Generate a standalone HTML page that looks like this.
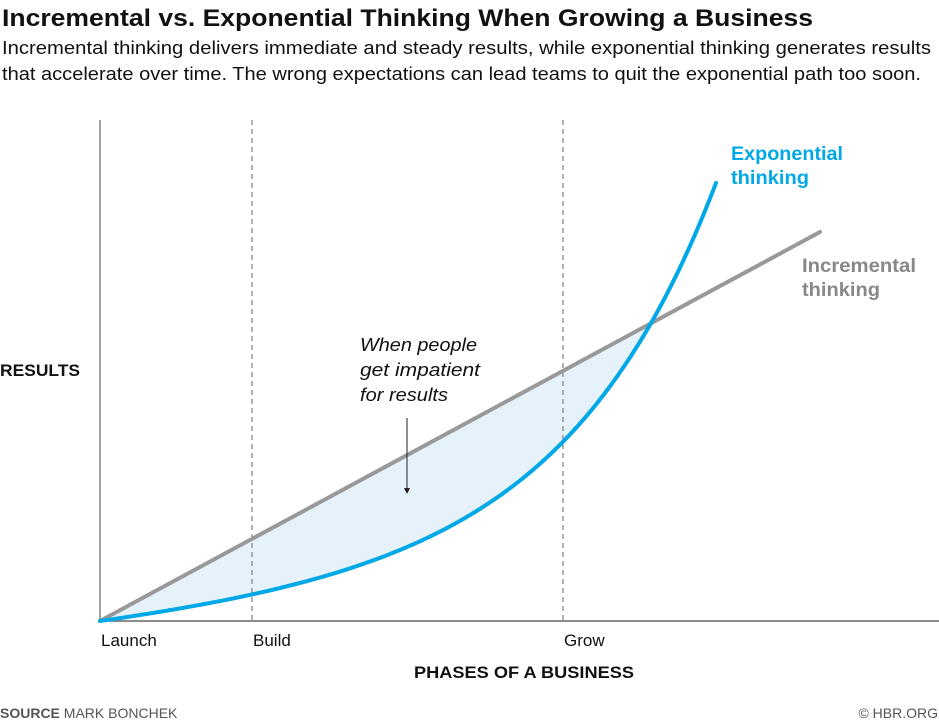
<!DOCTYPE html>
<html><head><meta charset="utf-8"><style>
body{margin:0;background:#fff;width:939px;height:722px;overflow:hidden;font-family:"Liberation Sans",sans-serif}
</style></head><body>
<svg width="939" height="722" xmlns="http://www.w3.org/2000/svg" font-family="Liberation Sans, sans-serif">
<text x="2" y="26" font-size="24" font-weight="bold" fill="#111" textLength="811" lengthAdjust="spacingAndGlyphs">Incremental vs. Exponential Thinking When Growing a Business</text>
<text x="2" y="54" font-size="18" fill="#111" textLength="929" lengthAdjust="spacingAndGlyphs">Incremental thinking delivers immediate and steady results, while exponential thinking generates results</text>
<text x="2" y="80" font-size="18" fill="#111" textLength="919" lengthAdjust="spacingAndGlyphs">that accelerate over time. The wrong expectations can lead teams to quit the exponential path too soon.</text>
<path id="fill" fill="#e6f2f9"/>
<line x1="100" y1="120" x2="100" y2="621" stroke="#444" stroke-width="1"/>
<line x1="100" y1="621" x2="939" y2="621" stroke="#666" stroke-width="1.5"/>
<line x1="252" y1="120" x2="252" y2="621" stroke="#666" stroke-dasharray="5,4"/>
<line x1="563" y1="120" x2="563" y2="621" stroke="#666" stroke-dasharray="5,4"/>
<line x1="100" y1="621" x2="820" y2="232" stroke="#999" stroke-width="4" stroke-linecap="round"/>
<path id="curve" fill="none" stroke="#00a8e8" stroke-width="4" stroke-linecap="round"/>
<line x1="407" y1="418" x2="407" y2="490" stroke="#222" stroke-width="1"/>
<path d="M404,488 L410,488 L407,494 Z" fill="#222"/>
<g font-size="18" font-style="italic" fill="#111"><text x="360" y="351" textLength="117" lengthAdjust="spacingAndGlyphs">When people</text><text x="360" y="376" textLength="120" lengthAdjust="spacingAndGlyphs">get impatient</text><text x="360" y="401" textLength="88" lengthAdjust="spacingAndGlyphs">for results</text></g>
<g font-size="19" font-weight="bold" fill="#00a8e8"><text x="731" y="160" textLength="112" lengthAdjust="spacingAndGlyphs">Exponential</text><text x="731" y="184" textLength="78" lengthAdjust="spacingAndGlyphs">thinking</text></g>
<g font-size="19" font-weight="bold" fill="#888"><text x="802" y="272" textLength="114" lengthAdjust="spacingAndGlyphs">Incremental</text><text x="802" y="296" textLength="78" lengthAdjust="spacingAndGlyphs">thinking</text></g>
<text x="0" y="376" font-size="17" font-weight="bold" fill="#111" textLength="80" lengthAdjust="spacingAndGlyphs">RESULTS</text>
<g font-size="17" fill="#111"><text x="101" y="646">Launch</text><text x="253" y="646">Build</text><text x="564" y="646">Grow</text></g>
<text x="414" y="678" font-size="17" font-weight="bold" fill="#111" textLength="220" lengthAdjust="spacingAndGlyphs">PHASES OF A BUSINESS</text>
<text x="0" y="718" font-size="14" fill="#555"><tspan font-weight="bold">SOURCE</tspan> MARK BONCHEK</text>
<text x="938" y="718" font-size="14" fill="#555" text-anchor="end">© HBR.ORG</text>
<script>
function y(x){var t=x-100;return 621-(0.1*t+6.57*(Math.exp(0.0066*t)-1));}
var d="M100,621",f="M100,621";
for(var x=102;x<=717;x+=2){d+=" L"+x+","+y(x).toFixed(1);}
for(var x=102;x<=650;x+=2){f+=" L"+x+","+y(x).toFixed(1);}
f+=" Z";
document.getElementById("curve").setAttribute("d",d);
document.getElementById("fill").setAttribute("d",f);
</script>
</svg>
</body></html>
